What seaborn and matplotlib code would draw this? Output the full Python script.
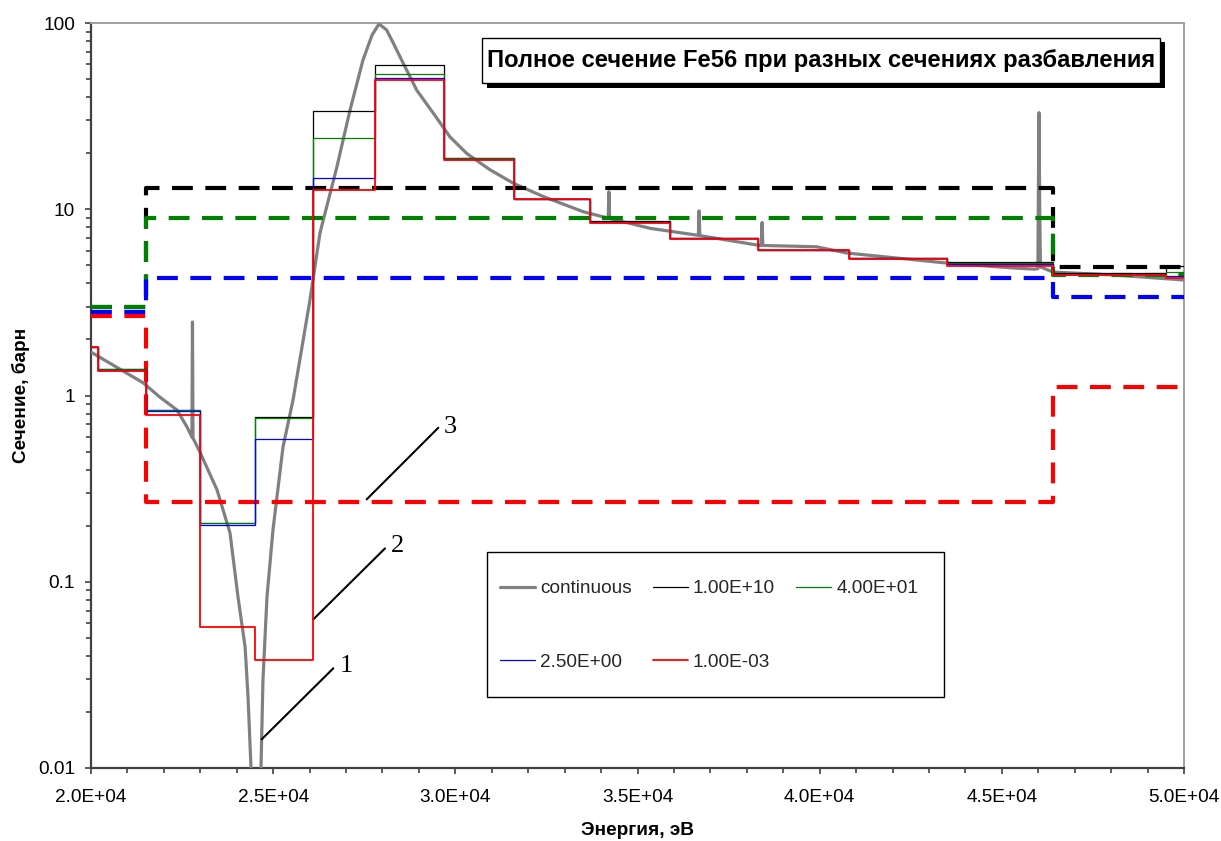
import matplotlib
matplotlib.use('Agg')
import matplotlib.pyplot as plt
import matplotlib.ticker as mticker
from matplotlib.patches import Rectangle
import pandas as pd
import seaborn as sns

# continuous (pointwise) total cross-section
cont_energy = [20000, 21430, 21890, 22360, 22635, 22770, 22785, 22800, 22990, 23460,
               23815, 24035, 24230, 24310, 24392, 24530, 24666, 24720, 24830, 24995,
               25270, 25545, 26010, 26285, 26750, 27110, 27465, 27715, 27905, 28115,
               28300, 28570, 28940, 29400, 29850, 30310, 30950, 31590, 32415, 33510,
               34195, 34215, 34235, 35345, 36670, 36690, 36710, 38272, 38400, 38420,
               38440, 39910, 40750, 43495, 45306, 45900, 45990, 46000, 46020, 46040,
               46060, 46404, 48050, 50000]
cont_sigma = [1.71, 1.17, 0.98, 0.836, 0.678, 0.598, 2.48, 0.59, 0.497, 0.311,
              0.183, 0.0828, 0.0447, 0.0241, 0.0100, 0.003, 0.0100, 0.0297, 0.0828, 0.190,
              0.529, 0.946, 3.26, 7.46, 16.9, 34.1, 63.3, 86.2, 98.8, 91.7,
              77.8, 60.8, 43.6, 32.7, 24.5, 19.95, 16.3, 13.8, 11.7, 9.70,
              8.96, 12.4, 8.93, 7.90, 7.24, 9.8, 7.22, 6.43, 6.40, 8.48,
              6.39, 6.29, 5.82, 5.14, 4.84, 4.77, 4.80, 10.0, 33.0, 10.0,
              4.90, 4.60, 4.44, 4.17]

# fine group structure, group cross-sections for each dilution
fine_edges = [20000, 20200, 21500, 23000, 24500, 26100, 27800, 29700, 31600,
              33700, 35900, 38300, 40800, 43500, 46400, 49500, 50000]
fine_1e10 = [1.83, 1.38, 0.84, 0.207, 0.767, 33.8, 59.3, 18.8, 11.4, 8.60, 7.00, 6.06, 5.46, 5.21, 4.52, 4.95]
fine_4e01 = [1.83, 1.38, 0.84, 0.207, 0.755, 24.0, 53.2, 18.8, 11.35, 8.58, 7.00, 6.06, 5.46, 5.14, 4.50, 4.60]
fine_2p5 = [1.83, 1.37, 0.826, 0.201, 0.584, 14.7, 50.4, 18.5, 11.3, 8.54, 6.98, 6.04, 5.45, 5.08, 4.47, 4.37]
fine_1em3 = [1.83, 1.36, 0.782, 0.0574, 0.038, 12.7, 49.4, 18.3, 11.3, 8.42, 6.95, 6.02, 5.43, 4.98, 4.43, 4.28]

# coarse group structure (dashed)
coarse_edges = [20000, 21500, 46400, 50000]
coarse_1e10 = [2.99, 12.95, 4.88]
coarse_4e01 = [3.00, 9.00, 4.44]
coarse_2p5 = [2.81, 4.26, 3.38]
coarse_1em3 = [2.67, 0.268, 1.11]

labels = ['continuous', '1.00E+10', '4.00E+01', '2.50E+00', '1.00E-03']
colors = ['#808080', 'black', 'green', 'blue', 'red']

# leader lines for the curve numbers: (text, start, end, text position)
notes = [('1', (24685, 0.01426), (26651, 0.0343), (27019, 0.0352)),
         ('2', (26102, 0.0628), (28069, 0.151), (28426, 0.156)),
         ('3', (27567, 0.277), (29532, 0.671), (29854, 0.68))]


def step_frame(edges, values):
    return pd.DataFrame({'energy': edges, 'sigma': list(values) + [values[-1]]})


sns.set_theme(style='white')
plt.rcParams['font.family'] = ['Liberation Sans', 'DejaVu Sans']

W, H = 1221, 841
fig = plt.figure(figsize=(W / 100, H / 100), dpi=100)
ax = fig.add_axes([91 / W, 1 - 768 / H, 1093 / W, 745 / H])
ax.set_yscale('log')

handles = []
cont = pd.DataFrame({'energy': cont_energy, 'sigma': cont_sigma})
sns.lineplot(data=cont, x='energy', y='sigma', ax=ax, color=colors[0], lw=2.3,
             estimator=None, zorder=3)
handles.append(ax.lines[-1])

for vals, col in zip([coarse_1e10, coarse_4e01, coarse_2p5, coarse_1em3], colors[1:]):
    sns.lineplot(data=step_frame(coarse_edges, vals), x='energy', y='sigma', ax=ax,
                 color=col, lw=3.0, linestyle=(0, (5, 3)), drawstyle='steps-post',
                 estimator=None, zorder=3)

for vals, col in zip([fine_1e10, fine_4e01, fine_2p5, fine_1em3], colors[1:]):
    lw = 1.3 if col == 'red' else 0.9
    sns.lineplot(data=step_frame(fine_edges, vals), x='energy', y='sigma', ax=ax,
                 color=col, lw=lw, drawstyle='steps-post', estimator=None, zorder=4)
    handles.append(ax.lines[-1])

for txt, p0, p1, pt in notes:
    ax.annotate('', xy=p0, xytext=p1,
                arrowprops=dict(arrowstyle='-', color='black', lw=1.5, shrinkA=0, shrinkB=0))
    ax.text(pt[0], pt[1], txt, ha='center', va='center', fontsize=19,
            family=['Liberation Serif', 'DejaVu Serif'], color='black')

ax.set_xlim(20000, 50000)
ax.set_ylim(0.01, 100)
ax.xaxis.set_major_locator(mticker.MultipleLocator(5000))
ax.xaxis.set_minor_locator(mticker.MultipleLocator(1000))
ax.xaxis.set_major_formatter(mticker.FuncFormatter(lambda v, p: f'{v:.1E}'))
ax.yaxis.set_major_locator(mticker.LogLocator(base=10))
ax.yaxis.set_minor_locator(mticker.LogLocator(base=10, subs=range(2, 10)))
ax.yaxis.set_major_formatter(mticker.FuncFormatter(lambda v, p: f'{v:g}'))
ax.yaxis.set_minor_formatter(mticker.NullFormatter())

ax.tick_params(which='both', bottom=True, left=True, direction='out', color='#404040',
               width=1.2, labelsize=13.7, labelcolor='black', pad=7)
ax.tick_params(axis='x', which='both', pad=10.5)
ax.tick_params(which='major', length=4.5)
ax.tick_params(which='minor', length=3.5)

for side in ['left', 'bottom']:
    ax.spines[side].set_color('#404040')
    ax.spines[side].set_linewidth(1.6)
for side in ['top', 'right']:
    ax.spines[side].set_color('#a0a0a0')
    ax.spines[side].set_linewidth(1.4)

ax.set_xlabel('Энергия, эВ', fontsize=13.7, fontweight='bold', color='black')
ax.set_ylabel('Сечение, барн', fontsize=13.7, fontweight='bold', color='black')
ax.xaxis.set_label_coords(0.5, -0.072)
ax.yaxis.set_label_coords(-0.056, 0.5)

# title box with shadow
fig.add_artist(Rectangle((486.5 / W, 1 - 87.5 / H), 678 / W, 45 / H, transform=fig.transFigure,
                         facecolor='black', edgecolor='black', lw=0, zorder=5))
fig.add_artist(Rectangle((482 / W, 1 - 82.7 / H), 678 / W, 45 / H, transform=fig.transFigure,
                         facecolor='white', edgecolor='black', lw=1.0, zorder=6))
fig.text(821 / W, 1 - 60.5 / H, 'Полное сечение Fe56 при разных сечениях разбавления',
         ha='center', va='center', fontsize=17.1, fontweight='bold', color='black', zorder=7)

# legend frame and legend laid out row by row
fig.add_artist(Rectangle((487 / W, 1 - 696.7 / H), 457 / W, 145 / H, transform=fig.transFigure,
                         facecolor='white', edgecolor='black', lw=1.0, zorder=5))
order = [0, 3, 1, 4, 2]
leg = fig.legend([handles[i] for i in order], [labels[i] for i in order], ncol=3,
                 loc='upper left', bbox_to_anchor=(500 / W, 1 - 580 / H),
                 bbox_transform=fig.transFigure, frameon=False, borderpad=0, borderaxespad=0,
                 fontsize=13.7, handlelength=1.84, handletextpad=0.26, columnspacing=1.12,
                 labelspacing=2.95)
leg.set_zorder(8)

fig.savefig('out.png', dpi=100, facecolor='white')
